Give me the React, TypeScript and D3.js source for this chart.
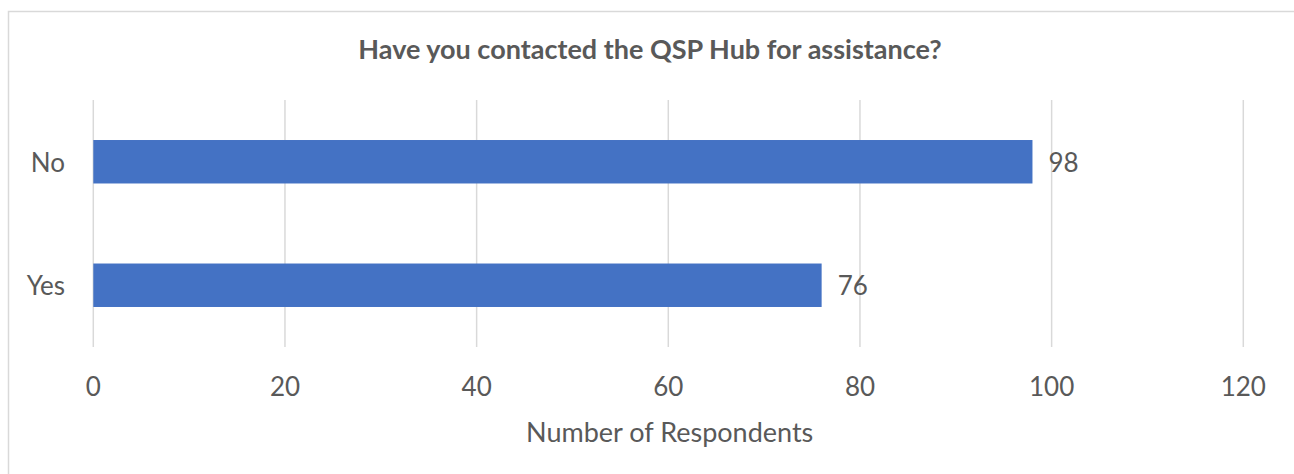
import React from "react";
import * as d3 from "d3";

const categories = ["No", "Yes"];
const values = [98, 76];
const xTicks = [0, 20, 40, 60, 80, 100, 120];
const title = "Have you contacted the QSP Hub for assistance?";
const xAxisTitle = "Number of Respondents";

const W = 1294;
const H = 474;
const FONT = "Lato, 'Open Sans', sans-serif";
const TEXT = "#595959";
const GRID = "#d9d9d9";
const BAR = "#4472c4";

export default function App() {
  const x = d3.scaleLinear().domain([0, 120]).range([93.3, 1243.3]);
  const y = d3
    .scaleBand<string>()
    .domain(categories)
    .range([100, 347])
    .paddingInner(0.648)
    .paddingOuter(0.324);

  return (
    <svg
      width={W}
      height={H}
      style={{ position: "absolute", left: 0, top: 0, background: "#fff" }}
      fontFamily={FONT}
    >
      <rect x={8.5} y={11.5} width={1400} height={600} fill="none" stroke={GRID} strokeWidth={1.5} />
      <text x={650} y={59} textAnchor="middle" fontSize={27} fontWeight="bold" fill={TEXT}>
        {title}
      </text>
      {xTicks.map((t) => (
        <g key={t}>
          <line x1={x(t)} x2={x(t)} y1={100} y2={347} stroke={GRID} strokeWidth={1.5} />
          <text x={x(t)} y={396} textAnchor="middle" fontSize={26} fill={TEXT}>
            {t}
          </text>
        </g>
      ))}
      {categories.map((c, i) => {
        const by = y(c)!;
        const bh = y.bandwidth();
        const cy = by + bh / 2;
        return (
          <g key={c}>
            <rect x={x(0)} y={by} width={x(values[i]) - x(0)} height={bh} fill={BAR} />
            <text x={x(values[i]) + 16} y={cy + 10} fontSize={26} fill={TEXT}>
              {values[i]}
            </text>
            <text x={65} y={cy + 10} textAnchor="end" fontSize={26} fill={TEXT}>
              {c}
            </text>
          </g>
        );
      })}
      <text x={669.7} y={441.7} textAnchor="middle" fontSize={27} fill={TEXT}>
        {xAxisTitle}
      </text>
    </svg>
  );
}
